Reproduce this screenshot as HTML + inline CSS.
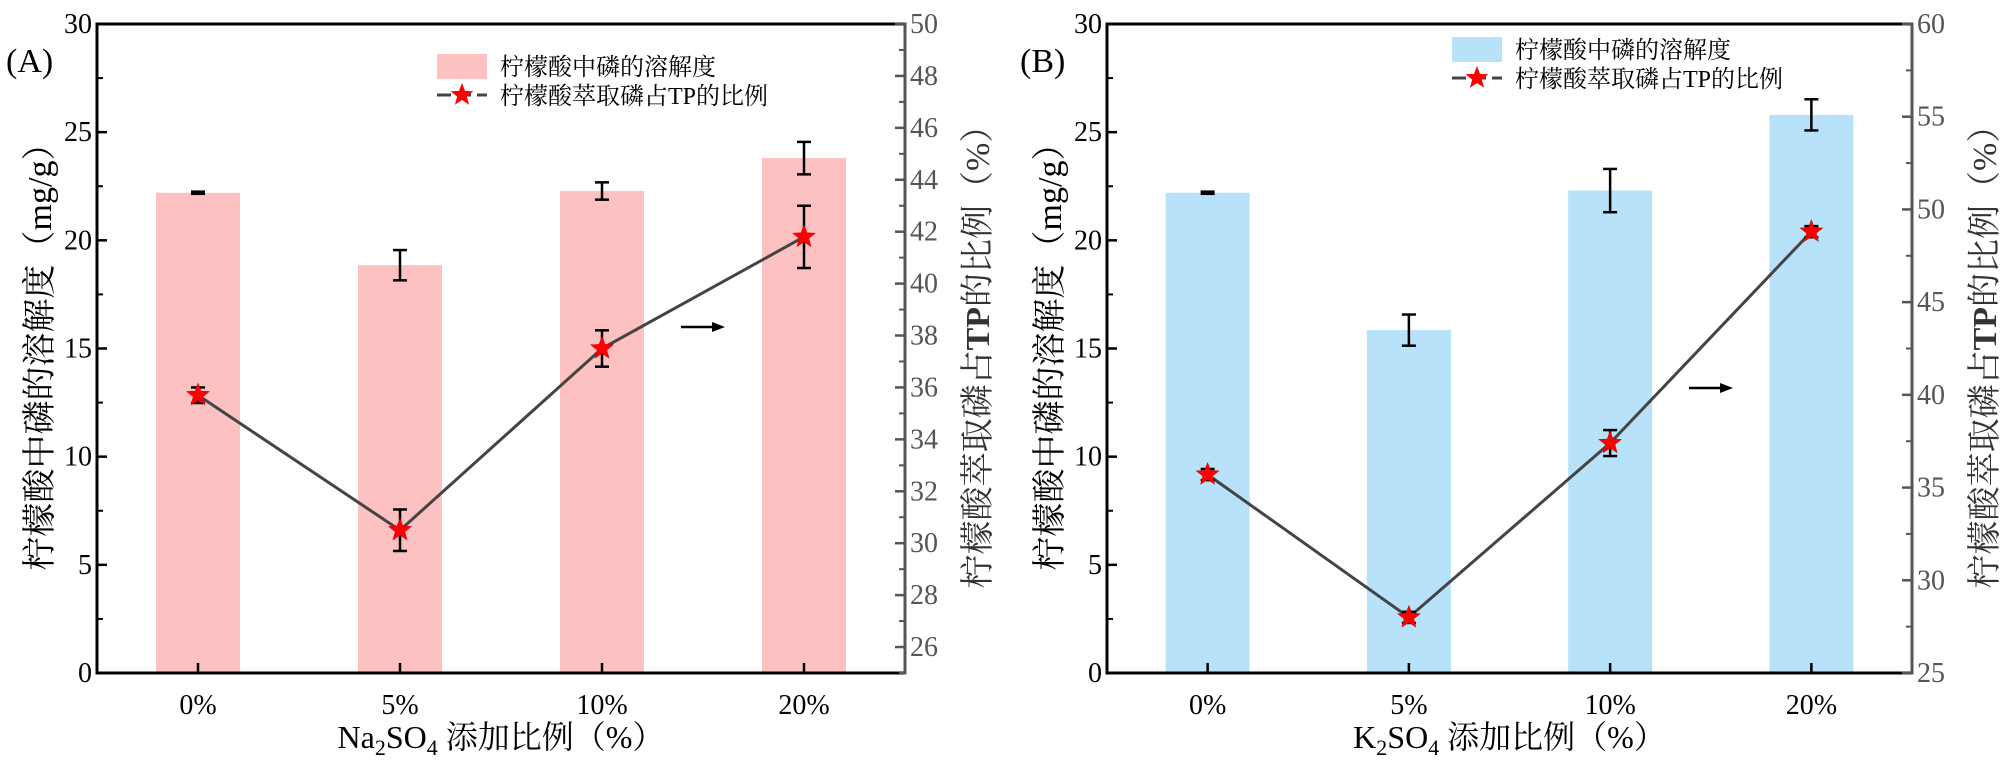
<!DOCTYPE html>
<html><head><meta charset="utf-8">
<style>
html,body{margin:0;padding:0;background:#fff;}
svg{display:block;font-family:"Liberation Serif","Noto Serif CJK SC","Noto Sans CJK SC",serif;}
</style></head>
<body>
<svg id="chart" width="2000" height="762" viewBox="0 0 2000 762" xmlns="http://www.w3.org/2000/svg"></svg>
<script>
const categories = ["0%", "5%", "10%", "20%"];
const barsA = [22.2, 18.85, 22.28, 23.8];
const barErrA = [0.05, 0.7, 0.4, 0.75];
const ratioA = [35.7, 30.5, 37.5, 41.8];
const ratioErrA = [0.3, 0.8, 0.7, 1.2];
const barsB = [22.2, 15.85, 22.3, 25.8];
const barErrB = [0.05, 0.72, 1.0, 0.72];
const ratioB = [35.7, 28.0, 37.4, 48.8];
const ratioErrB = [0.3, 0.3, 0.7, 0.3];
const leftTicks = [0, 5, 10, 15, 20, 25, 30];
const rightTicksA = [26, 28, 30, 32, 34, 36, 38, 40, 42, 44, 46, 48, 50];
const rightTicksB = [25, 30, 35, 40, 45, 50, 55, 60];

const NS = "http://www.w3.org/2000/svg";
const svg = document.getElementById("chart");
function mk(tag, attrs, parent, txt) {
  const e = document.createElementNS(NS, tag);
  for (const k in attrs) e.setAttribute(k, attrs[k]);
  if (txt !== undefined) e.textContent = txt;
  (parent || svg).appendChild(e);
  return e;
}
function starPts(cx, cy, R) {
  const r = R * 0.42; let p = [];
  for (let i = 0; i < 10; i++) {
    const a = -Math.PI / 2 + i * Math.PI / 5, rr = i % 2 ? r : R;
    p.push((cx + rr * Math.cos(a)).toFixed(1) + "," + (cy + rr * Math.sin(a)).toFixed(1));
  }
  return p.join(" ");
}

function panel(o) {
  const g = mk("g", {});
  
  
  const L = o.left, R = o.right, T = 24, B = 673;
  const yL = v => B - (v - 0) / 30 * (B - T);
  const yR = v => B - (v - o.rmin) / (o.rmax - o.rmin) * (B - T);
  const xC = i => L + (i + 0.5) * (R - L) / categories.length;
  const bw = 84;
  o.bars.forEach((v, i) => {
    const b = mk("rect", {x: xC(i) - bw / 2, y: yL(v), width: bw, height: B - yL(v), fill: o.color}, g);
    
    
  });
  o.bars.forEach((v, i) => {
    const e = o.barErr[i], x = xC(i);
    const eg = mk("g", {stroke: "#000", "stroke-width": 2.5, fill: "none"}, g);
    
    
    mk("line", {x1: x, x2: x, y1: yL(v + e), y2: yL(v - e)}, eg);
    mk("line", {x1: x - 7, x2: x + 7, y1: yL(v + e), y2: yL(v + e)}, eg);
    mk("line", {x1: x - 7, x2: x + 7, y1: yL(v - e), y2: yL(v - e)}, eg);
  });
  const pts = o.ratio.map((v, i) => xC(i) + "," + yR(v)).join(" ");
  const ln = mk("polyline", {points: pts, fill: "none", stroke: "#444", "stroke-width": 3}, g);
  
  
  o.ratio.forEach((v, i) => {
    const e = o.ratioErr[i], x = xC(i);
    const eg = mk("g", {stroke: "#000", "stroke-width": 2.5, fill: "none"}, g);
    
    
    mk("line", {x1: x, x2: x, y1: yR(v + e), y2: yR(v - e)}, eg);
    mk("line", {x1: x - 7, x2: x + 7, y1: yR(v + e), y2: yR(v + e)}, eg);
    mk("line", {x1: x - 7, x2: x + 7, y1: yR(v - e), y2: yR(v - e)}, eg);
    const s = mk("polygon", {points: starPts(x, yR(v), 12), fill: "#f00", stroke: "#c00", "stroke-width": 0.5}, g);
    
    
  });
  const ax = mk("g", {}, g);
  
  
  mk("line", {x1: L, x2: R, y1: T, y2: T, stroke: "#000", "stroke-width": 3}, ax);
  mk("line", {x1: L, x2: R, y1: B, y2: B, stroke: "#000", "stroke-width": 3}, ax);
  mk("line", {x1: L, x2: L, y1: T - 1.5, y2: B + 1.5, stroke: "#000", "stroke-width": 3}, ax);
  mk("line", {x1: R, x2: R, y1: T - 1.5, y2: B + 1.5, stroke: "#555", "stroke-width": 3}, ax);
  leftTicks.forEach((v, k) => {
    const y = yL(v);
    mk("line", {x1: L, x2: L + 10, y1: y, y2: y, stroke: "#000", "stroke-width": 2.5}, ax);
    if (k < leftTicks.length - 1) {
      const ym = yL(v + 2.5);
      mk("line", {x1: L, x2: L + 6, y1: ym, y2: ym, stroke: "#000", "stroke-width": 2}, ax);
    }
    const t = mk("text", {x: L - 5, y: y + 9, "text-anchor": "end", "font-size": 28, fill: "#000"}, ax, v);
    
    
  });
  o.rticks.forEach((v, k) => {
    const y = yR(v);
    mk("line", {x1: R, x2: R - 10, y1: y, y2: y, stroke: "#555", "stroke-width": 2.5}, ax);
    const step = o.rticks[1] - o.rticks[0];
    if (v - step / 2 > o.rmin - 0.01) {
      const ym = yR(v - step / 2);
      mk("line", {x1: R, x2: R - 6, y1: ym, y2: ym, stroke: "#555", "stroke-width": 2}, ax);
    }
    const t = mk("text", {x: R + 5, y: y + 9, "text-anchor": "start", "font-size": 28, fill: "#555"}, ax, v);
    
    
  });
  categories.forEach((c, i) => {
    const x = xC(i);
    mk("line", {x1: x, x2: x, y1: B, y2: B - 10, stroke: "#000", "stroke-width": 2.5}, ax);
    const t = mk("text", {x: x, y: 714, "text-anchor": "middle", "font-size": 28}, ax, c);
    
    
  });
  const xt = mk("text", {x: (L + R) / 2, y: 748, "text-anchor": "middle", "font-size": 32}, g);
  
  
  mk("tspan", {}, xt, o.salt);
  mk("tspan", {"font-size": 22, dy: 7}, xt, "2");
  mk("tspan", {dy: -7}, xt, "SO");
  mk("tspan", {"font-size": 22, dy: 7}, xt, "4");
  mk("tspan", {dy: -7}, xt, " 添加比例（%）");
  const ly = mk("text", {x: 0, y: 0, "text-anchor": "middle", "font-size": 34, transform: `translate(${L - 46},${(T + B) / 2}) rotate(-90)`}, g, "柠檬酸中磷的溶解度（mg/g）");
  
  
  const ry = mk("text", {x: 0, y: 0, "text-anchor": "middle", "font-size": 34, fill: "#333", transform: `translate(${R + 84},${(T + B) / 2}) rotate(-90)`}, g);
  
  
  mk("tspan", {}, ry, "柠檬酸萃取磷占");
  mk("tspan", {"font-weight": "bold"}, ry, "TP");
  mk("tspan", {}, ry, "的比例（%）");
  const pl = mk("text", {x: o.labX, y: 72, "font-size": 34}, g, o.label);
  
  
  const ar = mk("g", {}, g);
  
  
  mk("line", {x1: o.arX, x2: o.arX + 34, y1: o.arY, y2: o.arY, stroke: "#000", "stroke-width": 2.5}, ar);
  mk("polygon", {points: `${o.arX + 44},${o.arY} ${o.arX + 31},${o.arY - 5} ${o.arX + 31},${o.arY + 5}`, fill: "#000"}, ar);
  const lg = mk("g", {}, g);
  
  
  const lx = o.legX, lyy = o.legY;
  mk("rect", {x: lx, y: lyy, width: 50, height: 25, fill: o.color}, lg);
  const t1 = mk("text", {x: lx + 63, y: lyy + 21, "font-size": 24}, lg, "柠檬酸中磷的溶解度");
  
  
  mk("line", {x1: lx, x2: lx + 50, y1: lyy + 41, y2: lyy + 41, stroke: "#444", "stroke-width": 3, "stroke-dasharray": "14,6"}, lg);
  mk("polygon", {points: starPts(lx + 25, lyy + 41, 12), fill: "#f00"}, lg);
  const t2 = mk("text", {x: lx + 63, y: lyy + 50, "font-size": 24}, lg, "柠檬酸萃取磷占TP的比例");
  
  
}

panel({id: "a", left: 97, right: 905, rmin: 25, rmax: 50, rticks: rightTicksA, bars: barsA, barErr: barErrA, ratio: ratioA, ratioErr: ratioErrA, color: "#fdc1c1", salt: "Na", label: "(A)", labX: 6, arX: 681, arY: 327, legX: 437, legY: 54});
panel({id: "b", left: 1107, right: 1912, rmin: 25, rmax: 60, rticks: rightTicksB, bars: barsB, barErr: barErrB, ratio: ratioB, ratioErr: ratioErrB, color: "#b8e2fa", salt: "K", label: "(B)", labX: 1020, arX: 1689, arY: 388, legX: 1452, legY: 37});
</script>
</body></html>
